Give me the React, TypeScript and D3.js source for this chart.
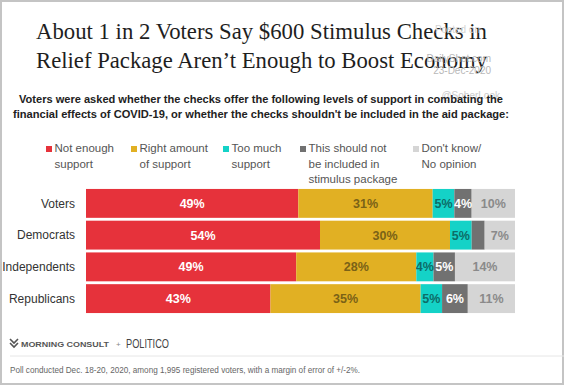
import { useMemo } from 'react'
import * as d3 from 'd3'

const GROUPS = ['Voters', 'Democrats', 'Independents', 'Republicans']
const NOT_ENOUGH = [49, 54, 49, 43]
const RIGHT_AMOUNT = [31, 30, 28, 35]
const TOO_MUCH = [5, 5, 4, 5]
const NOT_INCLUDED = [4, 3, 5, 6]
const DONT_KNOW = [10, 7, 14, 11]

const SERIES = [
  { key: 'notEnough', label: ['Not enough', 'support'], values: NOT_ENOUGH, fill: '#e6323b', text: '#ffffff', legendX: 46 },
  { key: 'right', label: ['Right amount', 'of support'], values: RIGHT_AMOUNT, fill: '#e1b023', text: '#7a6217', legendX: 131 },
  { key: 'tooMuch', label: ['Too much', 'support'], values: TOO_MUCH, fill: '#14d2c7', text: '#0d6d68', legendX: 223 },
  { key: 'notIncluded', label: ['This should not', 'be included in', 'stimulus package'], values: NOT_INCLUDED, fill: '#717171', text: '#ffffff', legendX: 300 },
  { key: 'dontKnow', label: ["Don't know/", 'No opinion'], values: DONT_KNOW, fill: '#d5d5d5', text: '#8a8a8a', legendX: 413 },
]

const W = 564
const H = 385
const SANS = '"Liberation Sans", Arial, sans-serif'

export default function App() {
  const rows = useMemo(() => {
    return GROUPS.map((g, i) => {
      const vals = SERIES.map((s) => s.values[i])
      const total = d3.sum(vals)
      let acc = 0
      const segs = SERIES.map((s, j) => {
        const x0 = acc / total
        acc += vals[j]
        return { s, v: vals[j], x0, x1: acc / total }
      })
      return { g, segs }
    })
  }, [])

  const x = d3.scaleLinear().domain([0, 1]).range([86, 515])
  const y = d3.scaleBand().domain(GROUPS).range([188, 314]).paddingInner(0.09).paddingOuter(0.03)

  return (
    <svg width={W} height={H} style={{ position: 'absolute', left: 0, top: 0, background: '#fff' }}>
      <rect x={1} y={1} width={W - 2} height={H - 2} fill="#fff" stroke="#c4c4c4" strokeWidth={2} />

      {/* title */}
      <g fontFamily='"Liberation Serif", "DejaVu Serif", serif' fontSize={23.5} fill="#1e1e1e" textAnchor="middle">
        <text x={261.5} y={39} textLength={451} lengthAdjust="spacingAndGlyphs">About 1 in 2 Voters Say $600 Stimulus Checks in</text>
        <text x={261.5} y={68} textLength={451} lengthAdjust="spacingAndGlyphs">Relief Package Aren’t Enough to Boost Economy</text>
      </g>

      {/* watermark */}
      <g fontFamily={SANS} fontSize={10} fill="#b8b8b8" textAnchor="end">
        <text x={480} y={33} fill="#d4d4d4">Posted on</text>
        <text x={491} y={62}>DailyShot.com</text>
        <text x={491} y={74}>23-Dec-2020</text>
        <text x={500} y={99} fill="#cccccc">@SoberLook</text>
      </g>

      {/* subtitle */}
      <g fontFamily={SANS} fontSize={11.5} fontWeight="bold" fill="#222" textAnchor="middle">
        <text x={261} y={103} textLength={484} lengthAdjust="spacingAndGlyphs">
          Voters were asked whether the checks offer the following levels of support in combating the
        </text>
        <text x={261} y={118} textLength={496} lengthAdjust="spacingAndGlyphs">
          financial effects of COVID-19, or whether the checks shouldn't be included in the aid package:
        </text>
      </g>

      {/* legend */}
      <g fontFamily={SANS} fontSize={11.5} fill="#555">
        {SERIES.map((s) => (
          <g key={s.key}>
            <rect x={s.legendX} y={146} width={6} height={6} fill={s.fill} />
            {s.label.map((l, k) => (
              <text key={k} x={s.legendX + 8.5} y={152 + k * 15.5}>
                {l}
              </text>
            ))}
          </g>
        ))}
      </g>

      {/* bars */}
      {rows.map((r) => (
        <g key={r.g} transform={`translate(0,${y(r.g)})`}>
          <text
            x={75}
            y={y.bandwidth() / 2}
            dy="0.35em"
            textAnchor="end"
            fontFamily={SANS}
            fontSize={12}
            fill="#333"
          >
            {r.g}
          </text>
          {r.segs.map((sg) => (
            <rect
              key={sg.s.key}
              x={x(sg.x0)}
              y={0}
              width={x(sg.x1) - x(sg.x0)}
              height={y.bandwidth()}
              fill={sg.s.fill}
            />
          ))}
          {r.segs.map((sg) =>
            sg.v >= 4 ? (
              <text
                key={sg.s.key}
                x={(x(sg.x0) + x(sg.x1)) / 2}
                y={y.bandwidth() / 2}
                dy="0.36em"
                textAnchor="middle"
                fontFamily={SANS}
                fontWeight="bold"
                fontSize={12.5}
                fill={sg.s.text}
              >
                {sg.v}%
              </text>
            ) : null
          )}
        </g>
      ))}

      {/* footer */}
      <g fontFamily={SANS}>
        <path d="M10,339 L14,343 L18,339 M10,343 L14,347 L18,343" fill="none" stroke="#555" strokeWidth={1.6} />
        <text x={21} y={347} fontSize={8} fontWeight="bold" fill="#555" textLength={88} lengthAdjust="spacingAndGlyphs">
          MORNING CONSULT
        </text>
        <text x={116} y={347} fontSize={8} fill="#888">+</text>
        <text x={126} y={348} fontSize={12.5} fill="#444" textLength={43} lengthAdjust="spacingAndGlyphs">
          POLITICO
        </text>
        <line x1={10} x2={564} y1={356} y2={356} stroke="#e6e6e6" strokeWidth={1} />
        <text x={10} y={373} fontSize={8.5} fill="#666" textLength={350} lengthAdjust="spacingAndGlyphs">
          Poll conducted Dec. 18-20, 2020, among 1,995 registered voters, with a margin of error of +/-2%.
        </text>
      </g>
    </svg>
  )
}
